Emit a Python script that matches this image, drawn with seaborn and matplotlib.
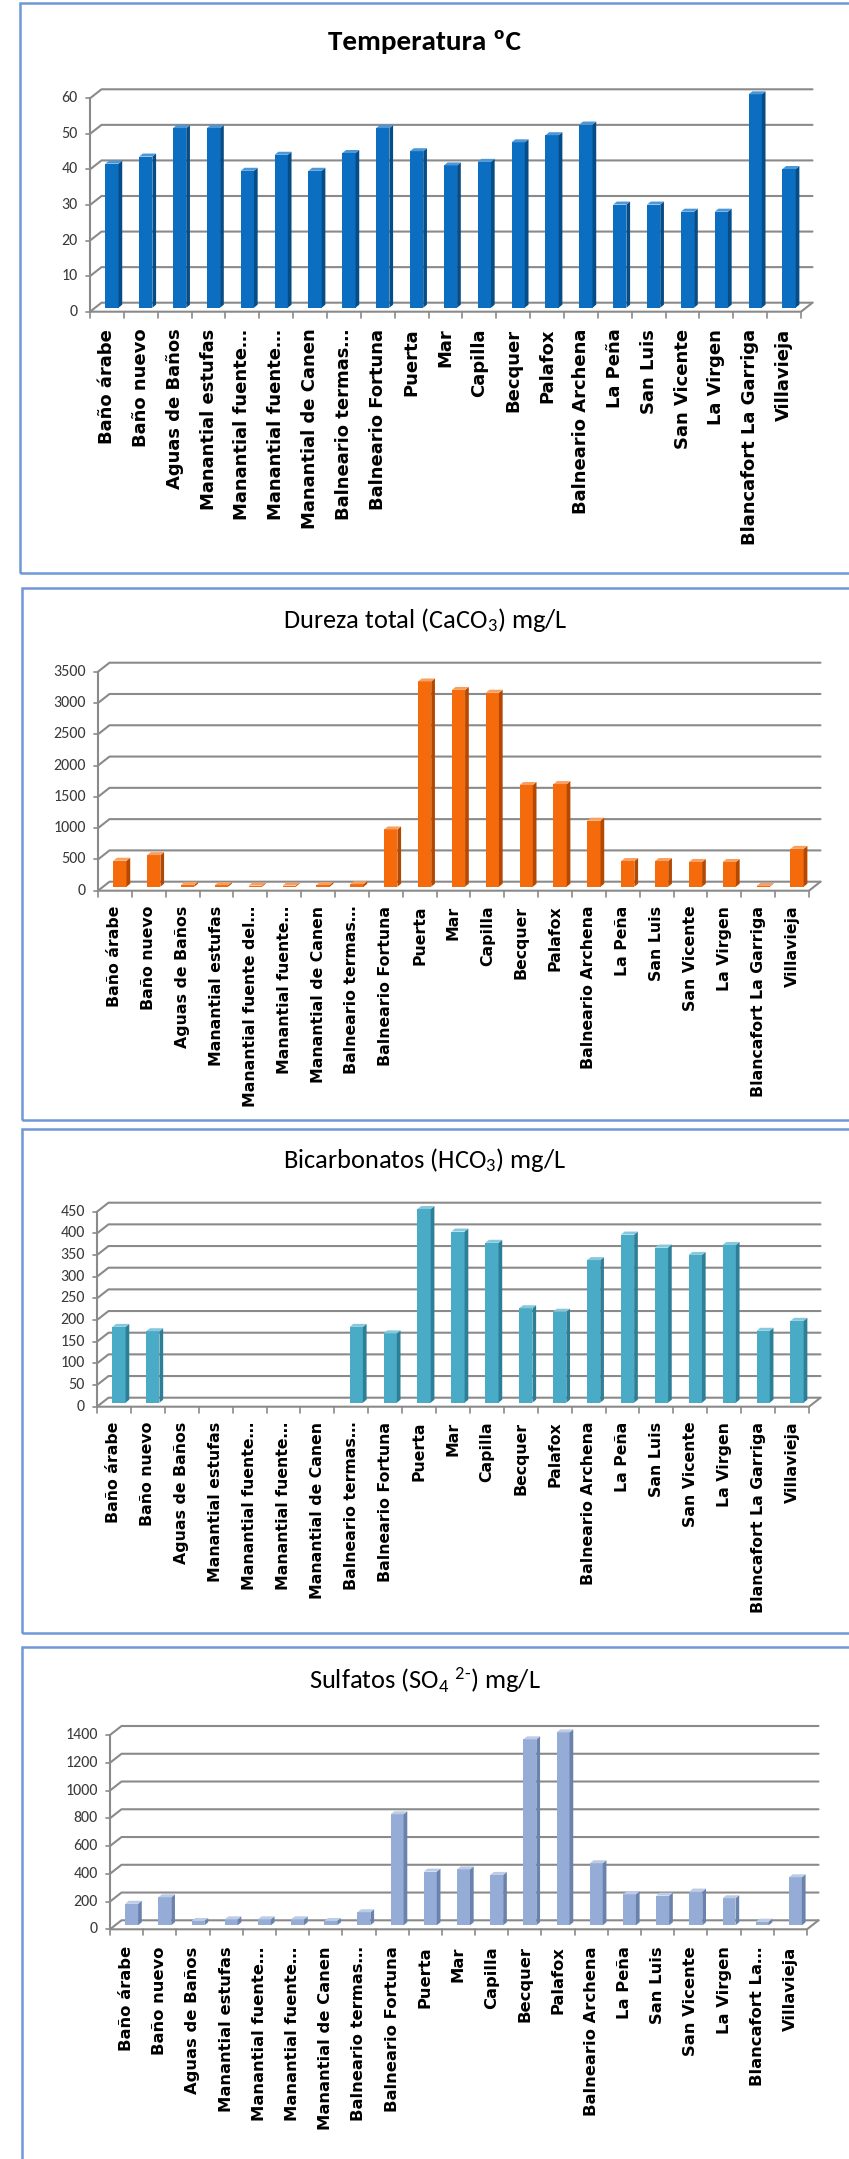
import numpy as np
import seaborn as sns
import matplotlib.pyplot as plt
from matplotlib import font_manager
from matplotlib.lines import Line2D
from matplotlib.patches import Polygon, Rectangle

sns.set_theme(style="white")

W, H, DPI = 849, 2159, 100

names = {f.name for f in font_manager.fontManager.ttflist}
narrow = next((f for f in ["Carlito", "Liberation Sans Narrow", "Lato"] if f in names), "DejaVu Sans")
plt.rcParams["font.family"] = [narrow, "DejaVu Sans"]
plt.rcParams["mathtext.fontset"] = "custom"
plt.rcParams["mathtext.rm"] = narrow
plt.rcParams["mathtext.default"] = "regular"

# --- data -------------------------------------------------------------
labels_temp = ["Baño árabe", "Baño nuevo", "Aguas de Baños", "Manantial estufas",
               "Manantial fuente…", "Manantial fuente…", "Manantial de Canen",
               "Balneario termas…", "Balneario Fortuna", "Puerta", "Mar", "Capilla",
               "Becquer", "Palafox", "Balneario Archena", "La Peña", "San Luis",
               "San Vicente", "La Virgen", "Blancafort La Garriga", "Villavieja"]
labels_dureza = labels_temp[:4] + ["Manantial fuente del…"] + labels_temp[5:]
labels_bicarb = list(labels_temp)
labels_sulf = labels_temp[:19] + ["Blancafort La…"] + labels_temp[20:]

temperatura = [40.5, 42.5, 50.5, 50.5, 38.5, 43, 38.5, 43.5, 50.5, 44, 40,
               41, 46.5, 48.5, 51.5, 29, 29, 27, 27, 60, 39]
dureza = [415, 505, 30, 25, 18, 18, 28, 40, 915, 3280, 3145,
          3100, 1625, 1640, 1055, 410, 410, 395, 395, 12, 605]
bicarbonatos = [175, 165, 0, 0, 0, 0, 0, 175, 160, 447, 395,
                369, 218, 210, 329, 388, 358, 341, 364, 166, 189]
sulfatos = [155, 202, 31, 43, 43, 43, 31, 94, 800, 387, 403,
            363, 1340, 1390, 447, 223, 214, 243, 195, 26, 346]

ticks_temp = [0, 10, 20, 30, 40, 50, 60]
ticks_dureza = [0, 500, 1000, 1500, 2000, 2500, 3000, 3500]
ticks_bicarb = [0, 50, 100, 150, 200, 250, 300, 350, 400, 450]
ticks_sulf = [0, 200, 400, 600, 800, 1000, 1200, 1400]

# colours: front, side, top
blue = ("#0b6ec0", "#064c86", "#4b97d8")
orange = ("#f56a0a", "#b44800", "#f9a060")
teal = ("#4aabc6", "#2c7f97", "#86c9dc")
lavender = ("#94acd6", "#6a82ac", "#bccbe6")

GRID = "#8a8a8a"
FRONT = np.array([-5.0, -4.0])   # px offset bar plane -> front plane
BACK = np.array([6.5, 5.0])      # px offset bar plane -> back wall
SIDE = np.array([3.7, 3.0])      # bar side depth


def line(fig, pts, **kw):
    pts = np.asarray(pts)
    fig.add_artist(Line2D(pts[:, 0] / W, pts[:, 1] / H, transform=fig.transFigure, **kw))


def poly(fig, pts, color, z=3):
    pts = np.asarray(pts) / [W, H]
    fig.add_artist(Polygon(pts, closed=True, facecolor=color, edgecolor="none",
                           transform=fig.transFigure, zorder=z))


def panel(fig, box, frame, title, title_y, title_kw, values, labels, ticks, colors,
          label_size, label_gap):
    x0, x1, ytop, ybot = box
    ax = fig.add_axes([x0 / W, 1 - ybot / H, (x1 - x0) / W, (ybot - ytop) / H])
    ax.patch.set_visible(False)
    n = len(values)
    sns.barplot(x=np.arange(n), y=values, color=colors[0], width=0.39,
                saturation=1, linewidth=0, errorbar=None, ax=ax)
    ax.set_xlim(-0.5, n - 0.5)
    ax.set_ylim(0, ticks[-1])
    ax.set_axis_off()

    d = lambda x, y: ax.transData.transform((x, y))

    # side wall + back wall gridlines
    for t in ticks:
        f = d(-0.5, t) + FRONT
        b = d(-0.5, t) + BACK
        e = d(n - 0.5, t) + BACK
        line(fig, [f, b, e], color=GRID, lw=1.5, zorder=-1)
        line(fig, [f, f + [-4, 0]], color=GRID, lw=1.2, zorder=-1)
        fig.text((f[0] - 12) / W, f[1] / H, str(t), ha="right", va="center",
                 fontsize=11.5, color="#3a3a3a")
    # floor + front axes
    fl, fr = d(-0.5, 0) + FRONT, d(n - 0.5, 0) + FRONT
    line(fig, [fl, fr, d(n - 0.5, 0) + BACK], color=GRID, lw=1.5, zorder=-1)
    line(fig, [fl, d(-0.5, ticks[-1]) + FRONT], color=GRID, lw=1.5, zorder=-1)
    for k in range(n + 1):
        p = d(k - 0.5, 0) + FRONT
        line(fig, [p, p + [0, -6]], color=GRID, lw=1.2, zorder=-1)

    # 3d faces of the bars
    for p in ax.patches:
        h = p.get_height()
        if not np.isfinite(h) or h <= 0:
            continue
        bl = d(p.get_x(), 0)
        tr = d(p.get_x() + p.get_width(), h)
        poly(fig, [(tr[0], bl[1]), (tr[0], bl[1]) + SIDE, tr + SIDE, tr], colors[1])
        poly(fig, [(bl[0], tr[1]), tr, tr + SIDE, (bl[0], tr[1]) + SIDE], colors[2])

    # category labels
    for i, lab in enumerate(labels):
        p = d(i, 0) + FRONT
        fig.text(p[0] / W, (p[1] - label_gap) / H, lab, rotation=90, ha="center", va="top",
                 fontsize=label_size, fontweight="bold", family="DejaVu Sans", color="black")

    fig.text(425 / W, 1 - title_y / H, title, ha="center", va="center", **title_kw)

    fx, fy0, fy1 = frame
    fig.add_artist(Rectangle((fx / W, 1 - fy1 / H), (W + 20 - fx) / W, (fy1 - fy0) / H,
                             transform=fig.transFigure, fill=False,
                             edgecolor="#7098d6", lw=1.8, zorder=5))


fig = plt.figure(figsize=(W / DPI, H / DPI), dpi=DPI)
fig.patch.set_facecolor("white")

big = dict(fontsize=21, fontweight="bold", color="black")
mid = dict(fontsize=19, color="black")

panel(fig, (95, 806, 94.3, 307.7), (20, 3, 573), "Temperatura ºC", 42, big,
      temperatura, labels_temp, ticks_temp, blue, 13, 17)
panel(fig, (103, 814, 667.7, 886.7), (22, 588, 1120), "Dureza total (CaCO$_3$) mg/L", 620, mid,
      dureza, labels_dureza, ticks_dureza, orange, 11.3, 15)
panel(fig, (102, 814, 1207.7, 1402.7), (22, 1129, 1633), "Bicarbonatos (HCO$_3$) mg/L", 1160, mid,
      bicarbonatos, labels_bicarb, ticks_bicarb, teal, 11.3, 15)
panel(fig, (115, 812, 1731, 1925.3), (22, 1647, H + 20), r"Sulfatos (SO$_4$ $^{2\text{-}}$) mg/L", 1680, mid,
      sulfatos, labels_sulf, ticks_sulf, lavender, 11.8, 17)

fig.savefig("out.png", dpi=DPI, facecolor="white")
